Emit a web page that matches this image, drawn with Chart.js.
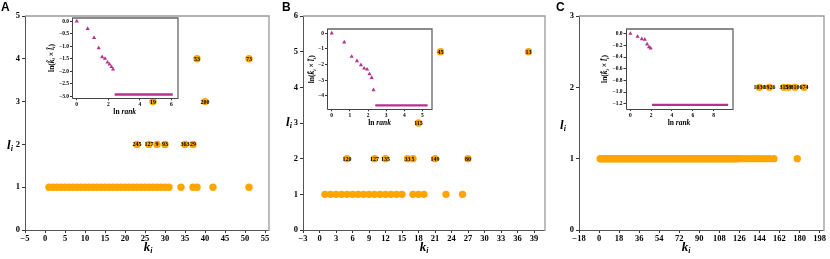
<!DOCTYPE html>
<html><head><meta charset="utf-8">
<script src="https://cdn.jsdelivr.net/npm/chart.js@4.4.0/dist/chart.umd.min.js"></script>
<style>
html,body{margin:0;padding:0;background:#fff;width:830px;height:259px;overflow:hidden;position:relative;}
canvas{position:absolute;}
.pl{position:absolute;top:0;font:bold 12px "Liberation Sans",Arial,sans-serif;color:#000;line-height:14px;}
</style></head><body>
<canvas id="mA" width="280" height="259" style="left:0;top:0"></canvas>
<canvas id="mB" width="270" height="259" style="left:280px;top:0"></canvas>
<canvas id="mC" width="280" height="259" style="left:550px;top:0"></canvas>
<canvas id="iA" width="145" height="112" style="left:40px;top:8px"></canvas>
<canvas id="iB" width="145" height="112" style="left:295px;top:18px"></canvas>
<canvas id="iC" width="148" height="112" style="left:593px;top:18px"></canvas>
<div class="pl" style="left:1px">A</div>
<div class="pl" style="left:282px">B</div>
<div class="pl" style="left:556px">C</div>
<script>
// ---------------- DATA ----------------
// Panel A (main): nodes with l_i = 1
const A_k_l1 = [1,2,3,4,5,6,7,8,9,10,11,12,13,14,15,16,17,18,19,20,21,22,23,24,25,26,27,28,29,30,31,34,37,38,42,51];
// Panel A labelled nodes
const A_lab_k   = [23,26,28,30,35,37,27,40,38,51];
const A_lab_l   = [2,2,2,2,2,2,3,3,4,4];
const A_lab_txt = ['245','127','9','93','363','29','19','200','53','73'];
const A_xticks  = [-5,0,5,10,15,20,25,30,35,40,45,50,55];
const A_yticks  = [0,1,2,3,4,5];
// Panel A inset
const A_in_x    = [0,0.69,1.10,1.39,1.61,1.79,1.95,2.08,2.20,2.30];
const A_in_y    = [0,-0.30,-0.66,-1.07,-1.43,-1.49,-1.64,-1.72,-1.82,-1.92];
const A_tail_x  = [2.40,6.08];
const A_tail_y  = [-2.93,-2.93];
const A_in_xticks = [0,2,4,6];
const A_in_yticks = [0,-0.5,-1,-1.5,-2,-2.5,-3];

// Panel B (main)
const B_k_l1 = [1,2,3,4,5,6,7,8,9,10,11,12,13,14,15,17,18,19,23,26];
const B_lab_k   = [5,10,12,16,17,21,27,18,22,38];
const B_lab_l   = [2,2,2,2,2,2,2,3,5,5];
const B_lab_txt = ['120','127','135','33','5','149','80','115','45','13'];
const B_xticks  = [-3,0,3,6,9,12,15,18,21,24,27,30,33,36,39];
const B_yticks  = [0,1,2,3,4,5,6];
// Panel B inset
const B_in_x    = [0,0.69,1.10,1.39,1.61,1.79,1.95,2.08,2.20,2.30];
const B_in_y    = [0,-0.58,-1.50,-1.78,-2.03,-2.25,-2.31,-2.61,-2.85,-3.63];
const B_tail_x  = [2.40,5.28];
const B_tail_y  = [-4.62,-4.62];
const B_in_xticks = [0,1,2,3,4,5];
const B_in_yticks = [0,-1,-2,-3,-4];

// Panel C (main)
const C_k_l1 = [1,2,3,4,5,6,7,8,9,10,11,12,13,14,15,16,17,18,19,20,21,22,23,24,25,26,27,28,29,30,
  31,32,33,34,35,36,37,38,39,40,41,42,43,44,45,46,47,48,49,50,51,52,53,54,55,56,57,58,59,60,
  61,62,63,64,65,66,67,68,69,70,71,72,73,74,75,76,77,78,79,80,81,82,83,84,85,86,87,88,89,90,
  91,92,93,94,95,96,97,98,99,100,101,102,103,104,105,106,107,108,109,110,111,112,113,114,115,116,117,118,119,120,
  121,122,123,124,126,129,132,135,138,141,144,147,150,153,157,178];
const C_lab_k   = [144,153,166,170,176,184];
const C_lab_l   = [2,2,2,2,2,2];
const C_lab_txt = ['1030','1926','315','58','810','674'];
const C_xticks  = [-18,0,18,36,54,72,90,108,126,144,162,180,198];
const C_yticks  = [0,1,2,3];
// Panel C inset
const C_in_x    = [0,0.69,1.10,1.39,1.61,1.79,1.95];
const C_in_y    = [0,-0.05,-0.09,-0.10,-0.18,-0.23,-0.25];
const C_tail_x  = [2.08,9.40];
const C_tail_y  = [-1.22,-1.22];
const C_in_xticks = [0,2,4,6,8];
const C_in_yticks = [0,-0.2,-0.4,-0.6,-0.8,-1.0,-1.2];

// ---------------- STYLE ----------------
const ORANGE = '#FFA500';
const PURPLE = '#B5338F';
const SERIF = '"Liberation Serif","Times New Roman",serif';

function fmtInt(v){ return v < 0 ? '\u2212' + Math.abs(v) : String(v); }
function fmt1(v){ const s = Math.abs(v).toFixed(1); return v < 0 ? '\u2212' + s : s; }

function richText(ctx, parts, x, y, rotate){
  ctx.save();
  ctx.translate(x, y);
  if (rotate) ctx.rotate(-Math.PI/2);
  let total = 0;
  parts.forEach(p => { ctx.font = p.f; p.w = ctx.measureText(p.t).width; total += p.w; });
  let cx = -total/2;
  ctx.textBaseline = 'middle'; ctx.textAlign = 'left'; ctx.fillStyle = '#000';
  parts.forEach(p => { ctx.font = p.f; ctx.fillText(p.t, cx, p.dy || 0); cx += p.w; });
  ctx.restore();
}

function boxPlugin(fillWhite, dark, light){
  return {
    id: 'box',
    beforeDraw(chart){
      if (!fillWhite) return;
      const a = chart.chartArea, c = chart.ctx;
      c.save(); c.fillStyle = '#fff';
      c.fillRect(a.left, a.top, a.right - a.left, a.bottom - a.top);
      c.restore();
    },
    afterDraw(chart){
      const a = chart.chartArea, c = chart.ctx;
      c.save();
      c.lineWidth = 1;
      c.strokeStyle = dark;
      c.beginPath();
      c.moveTo(Math.round(a.left)+0.5, Math.round(a.top));
      c.lineTo(Math.round(a.left)+0.5, Math.round(a.bottom)+0.5);
      c.lineTo(Math.round(a.right), Math.round(a.bottom)+0.5);
      c.stroke();
      c.strokeStyle = light; c.lineWidth = 1.3;
      c.beginPath();
      c.moveTo(Math.round(a.left), Math.round(a.top));
      c.lineTo(Math.round(a.right), Math.round(a.top));
      c.lineTo(Math.round(a.right), Math.round(a.bottom)+1);
      c.stroke();
      c.restore();
    }
  };
}

function labelPlugin(dsIndex, texts){
  return {
    id: 'ptlabels',
    afterDatasetsDraw(chart){
      const meta = chart.getDatasetMeta(dsIndex), c = chart.ctx;
      c.save();
      c.font = 'bold 6px ' + SERIF;
      c.fillStyle = '#000'; c.textAlign = 'center'; c.textBaseline = 'middle';
      meta.data.forEach((el, i) => c.fillText(texts[i], el.x, el.y + 0.5));
      c.restore();
    }
  };
}

function titlePlugin(draws){
  return { id: 'titles', afterDraw(chart){ draws.forEach(d => richText(chart.ctx, d.parts, d.x, d.y, d.rot)); } };
}

function axisCfg(o){
  return {
    type: 'linear', min: o.min, max: o.max,
    afterBuildTicks: s => { s.ticks = o.ticks.map(v => ({ value: v })); },
    afterFit: s => { if (o.w !== undefined) s.width = o.w; if (o.h !== undefined) s.height = o.h; },
    grid: { display: true, drawOnChartArea: false, drawTicks: true, tickLength: o.tl, tickColor: '#333', color: '#333' },
    border: { display: false },
    ticks: { font: { family: SERIF, size: o.fs, weight: 'bold' }, color: '#000', padding: o.pad,
             maxRotation: 0, autoSkip: false, callback: o.fmt }
  };
}

function makeMain(id, d){
  const main = {
    data: d.l1.map(k => ({ x: k, y: 1 })),
    backgroundColor: ORANGE, borderWidth: 0, pointRadius: 3.7, pointHoverRadius: 3.7
  };
  const lab = {
    data: d.labK.map((k, i) => ({ x: k, y: d.labL[i] })),
    backgroundColor: ORANGE, borderWidth: 0, pointRadius: 3.7, pointHoverRadius: 3.7
  };
  const sub = 'italic bold 8px ' + SERIF, big = 'italic bold 13px ' + SERIF;
  new Chart(document.getElementById(id), {
    type: 'scatter',
    data: { datasets: [main, lab] },
    options: {
      responsive: false, animation: false, devicePixelRatio: 1, events: [],
      layout: { padding: { left: 0, top: 16, right: d.padR, bottom: 0 } },
      plugins: { legend: { display: false }, tooltip: { enabled: false } },
      scales: {
        x: axisCfg({ min: d.xmin, max: d.xmax, ticks: d.xticks, h: 29, tl: 3, pad: 1, fs: 8.5, fmt: fmtInt }),
        y: axisCfg({ min: 0, max: d.ymax, ticks: d.yticks, w: d.yW, tl: 3, pad: 2, fs: 8.5, fmt: fmtInt })
      }
    },
    plugins: [boxPlugin(false, '#555', '#9a9a9a'), labelPlugin(1, d.labTxt), titlePlugin([
      { parts: [{ t: 'l', f: big }, { t: 'i', f: sub, dy: 3 }], x: d.ytx, y: d.yty, rot: false },
      { parts: [{ t: 'k', f: big }, { t: 'i', f: sub, dy: 3 }], x: d.xtx, y: 248, rot: false }
    ])]
  });
}

function makeInset(id, d){
  const f = 'bold 7.5px ' + SERIF, fi = 'italic bold 7.5px ' + SERIF, fs = 'italic bold 5px ' + SERIF;
  new Chart(document.getElementById(id), {
    type: 'scatter',
    data: { datasets: [
      { data: d.tx.map((x, i) => ({ x: x, y: d.ty[i] })), showLine: true, borderColor: PURPLE,
        borderWidth: 2.4, pointRadius: 0, pointHoverRadius: 0 },
      { data: d.px.map((x, i) => ({ x: x, y: d.py[i] })), pointStyle: 'triangle', pointRadius: 2.4,
        backgroundColor: PURPLE, borderWidth: 0, pointHoverRadius: 2.4 }
    ] },
    options: {
      responsive: false, animation: false, devicePixelRatio: 1, events: [],
      layout: { padding: { left: 0, top: d.padT, right: d.padR, bottom: 0 } },
      plugins: { legend: { display: false }, tooltip: { enabled: false } },
      scales: {
        x: axisCfg({ min: d.xmin, max: d.xmax, ticks: d.xticks, h: d.xh, tl: 2, pad: 1, fs: 5.5, fmt: d.xfmt }),
        y: axisCfg({ min: d.ymin, max: d.ymax, ticks: d.yticks, w: d.yW, tl: 2, pad: 1, fs: 5.5, fmt: d.yfmt })
      }
    },
    plugins: [boxPlugin(true, '#444', '#666'), titlePlugin([
      { parts: [{ t: 'ln(', f: f }, { t: 'k\u0303', f: fi }, { t: 'i', f: fs, dy: 2 }, { t: ' \u00d7 ', f: f },
                { t: 'l\u0303', f: fi }, { t: 'i', f: fs, dy: 2 }, { t: ')', f: f }],
        x: d.ytx, y: d.yty, rot: true },
      { parts: [{ t: 'ln ', f: f }, { t: 'rank', f: fi }], x: d.xtx, y: d.xty, rot: false }
    ])]
  });
}

// main panels
makeMain('mA', { l1: A_k_l1, labK: A_lab_k, labL: A_lab_l, labTxt: A_lab_txt, xticks: A_xticks, yticks: A_yticks,
  xmin: -5, xmax: 56, ymax: 5, yW: 25, padR: 11, ytx: 10, yty: 146, xtx: 148 });
makeMain('mB', { l1: B_k_l1, labK: B_lab_k, labL: B_lab_l, labTxt: B_lab_txt, xticks: B_xticks, yticks: B_yticks,
  xmin: -3, xmax: 41, ymax: 6, yW: 23, padR: 5, ytx: 9, yty: 123, xtx: 144 });
makeMain('mC', { l1: C_k_l1, labK: C_lab_k, labL: C_lab_l, labTxt: C_lab_txt, xticks: C_xticks, yticks: C_yticks,
  xmin: -18, xmax: 202, ymax: 3, yW: 29, padR: 6, ytx: 13, yty: 126, xtx: 136 });

// insets
makeInset('iA', { px: A_in_x, py: A_in_y, tx: A_tail_x, ty: A_tail_y, xticks: A_in_xticks, yticks: A_in_yticks,
  xmin: -0.3, xmax: 6.38, ymin: -3.08, ymax: 0.15, padT: 9.5, padR: 7.5, yW: 32, xh: 21.7,
  xfmt: fmtInt, yfmt: fmt1, ytx: 12, yty: 50, xtx: 84.7, xty: 103.7 });
makeInset('iB', { px: B_in_x, py: B_in_y, tx: B_tail_x, ty: B_tail_y, xticks: B_in_xticks, yticks: B_in_yticks,
  xmin: -0.26, xmax: 5.54, ymin: -4.87, ymax: 0.25, padT: 11.3, padR: 7.7, yW: 32, xh: 20.7,
  xfmt: fmtInt, yfmt: fmtInt, ytx: 17.5, yty: 51.3, xtx: 84.6, xty: 104.7 });
makeInset('iC', { px: C_in_x, py: C_in_y, tx: C_tail_x, ty: C_tail_y, xticks: C_in_xticks, yticks: C_in_yticks,
  xmin: -0.47, xmax: 9.87, ymin: -1.29, ymax: 0.08, padT: 11, padR: 8, yW: 32.5, xh: 21,
  xfmt: fmtInt, yfmt: fmt1, ytx: 12.5, yty: 51, xtx: 86, xty: 104.7 });
</script>
</body></html>
